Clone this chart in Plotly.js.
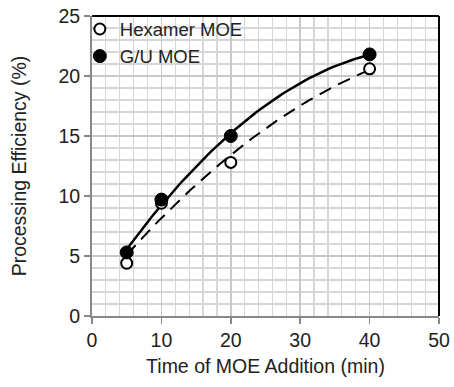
<!DOCTYPE html>
<html><head><meta charset="utf-8">
<script src="https://cdn.plot.ly/plotly-3.0.1.min.js"></script>
<style>body{margin:0;background:#fff}#c{width:454px;height:387px}</style>
</head><body><div id="c"></div>
<script>
var times = [5, 10, 20, 40];
var hexamer = [4.4, 9.4, 12.8, 20.6];
var gu = [5.3, 9.7, 15.0, 21.8];
var xTicks = [0, 10, 20, 30, 40, 50];
var yTicks = [0, 5, 10, 15, 20, 25];

function quadFit(xs, ys) {
  var n = xs.length, s = [0,0,0,0,0], t = [0,0,0];
  for (var i = 0; i < n; i++) {
    var p = 1;
    for (var k = 0; k < 5; k++) { s[k] += p; if (k < 3) t[k] += p * ys[i]; p *= xs[i]; }
  }
  var A = [[s[0],s[1],s[2],t[0]],[s[1],s[2],s[3],t[1]],[s[2],s[3],s[4],t[2]]];
  for (var c = 0; c < 3; c++) {
    for (var r = c + 1; r < 3; r++) {
      var f = A[r][c] / A[c][c];
      for (var j = c; j < 4; j++) A[r][j] -= f * A[c][j];
    }
  }
  var b = [0,0,0];
  for (var r2 = 2; r2 >= 0; r2--) {
    var v = A[r2][3];
    for (var j2 = r2 + 1; j2 < 3; j2++) v -= A[r2][j2] * b[j2];
    b[r2] = v / A[r2][r2];
  }
  return b;
}
function curve(xs, ys) {
  var b = quadFit(xs, ys), cx = [], cy = [];
  var x0 = xs[0], x1 = xs[xs.length - 1];
  for (var i = 0; i <= 60; i++) {
    var x = x0 + (x1 - x0) * i / 60;
    cx.push(x); cy.push(b[0] + b[1] * x + b[2] * x * x);
  }
  return {x: cx, y: cy};
}
var ch = curve(times, hexamer), cg = curve(times, gu);

var data = [
  {x: ch.x, y: ch.y, mode: 'lines', line: {color: '#000', width: 2, dash: '13px,8px'}, showlegend: false, hoverinfo: 'skip'},
  {x: cg.x, y: cg.y, mode: 'lines', line: {color: '#000', width: 2.5}, showlegend: false, hoverinfo: 'skip'},
  {x: times, y: hexamer, mode: 'markers', name: 'Hexamer MOE',
   marker: {symbol: 'circle', size: 11, color: '#fff', line: {color: '#000', width: 2}}},
  {x: times, y: gu, mode: 'markers', name: 'G/U MOE',
   marker: {symbol: 'circle', size: 13, color: '#000', line: {color: '#000', width: 1}}}
];
var FAM = 'Liberation Sans, Arial, sans-serif';
var FS = 19.5;
var layout = {
  width: 454, height: 387,
  margin: {l: 92, r: 15, t: 15, b: 71},
  paper_bgcolor: '#fff', plot_bgcolor: '#fff',
  font: {family: FAM, size: FS, color: '#222'},
  showlegend: true,
  legend: {x: -0.035, y: 1.015, xanchor: 'left', yanchor: 'top', bgcolor: 'rgba(0,0,0,0)',
    font: {family: FAM, size: 18.5, color: '#222'},
    itemwidth: 30, tracegroupgap: 0, borderwidth: 0},
  xaxis: {range: [0, 50], tickvals: xTicks, ticktext: xTicks.map(String),
    showgrid: true, gridcolor: '#c8c8c8', gridwidth: 1.5,
    minor: {dtick: 2, showgrid: true, gridcolor: '#d6d6d6', gridwidth: 1.2},
    showline: true, linecolor: '#888', linewidth: 2, ticks: 'outside', tickcolor: '#888', ticklen: 6, tickwidth: 1.5,
    zeroline: false, fixedrange: true,
    title: {text: 'Time of MOE Addition (min)', font: {size: FS, color: '#222'}, standoff: 9}},
  yaxis: {range: [0, 25], tickvals: yTicks, ticktext: yTicks.map(String),
    showgrid: true, gridcolor: '#c8c8c8', gridwidth: 1.5,
    minor: {dtick: 1, showgrid: true, gridcolor: '#d6d6d6', gridwidth: 1.2},
    showline: true, linecolor: '#888', linewidth: 2, ticks: 'outside', tickcolor: '#888', ticklen: 6, tickwidth: 1.5,
    zeroline: false, fixedrange: true,
    title: {text: 'Processing Efficiency (%)', font: {size: FS, color: '#222'}, standoff: 27}},
  shapes: [
    {type: 'line', xref: 'paper', yref: 'paper', x0: 0, x1: 1, y0: 1, y1: 1, line: {color: '#000', width: 2}},
    {type: 'line', xref: 'paper', yref: 'paper', x0: 1, x1: 1, y0: 0, y1: 1, line: {color: '#000', width: 2}}
  ]
};
Plotly.newPlot('c', data, layout, {displayModeBar: false, staticPlot: true});
</script></body></html>
